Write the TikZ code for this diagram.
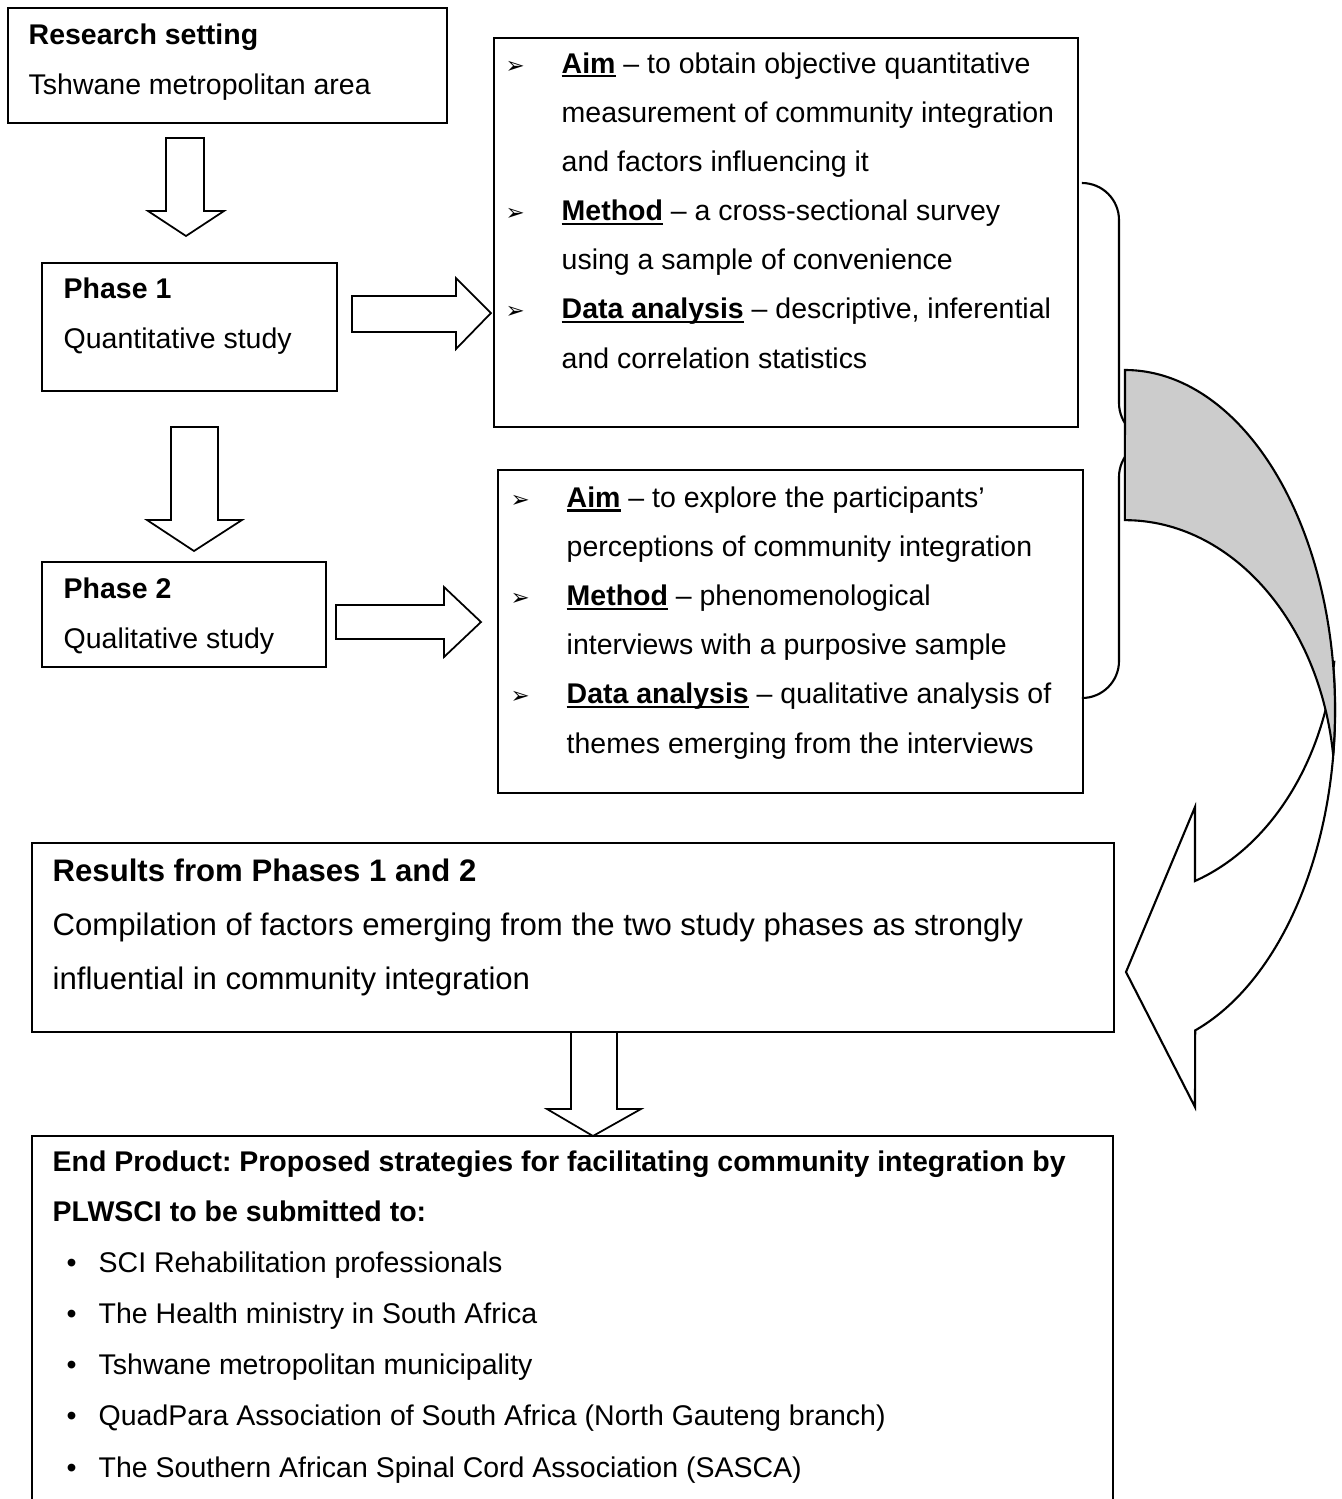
\documentclass[tikz,border=0pt]{standalone}
\usepackage{fontspec}
\setmainfont{Liberation Sans}
\newfontfamily\dejavu{DejaVu Sans}
\usetikzlibrary{fit}
\frenchspacing

\definecolor{backgrey}{RGB}{204,204,204}
\newcommand{\undbf}[1]{\setbox0\hbox{\textbf{#1}}\rlap{\rule[-1.2pt]{\wd0}{0.6pt}}\box0\relax}
\newcommand{\arrbul}{\makebox[0.56cm][l]{\dejavu\fontsize{6.5pt}{6.5pt}\selectfont ➢}}
\newcommand{\dotbul}{\makebox[0.32cm][l]{•}}

\begin{document}
\begin{tikzpicture}[x=0.01cm, y=-0.01cm,
  box/.style={draw, line width=0.6pt, inner sep=0pt},
  txt/.style={anchor=base west, align=left, inner sep=0pt, font=\fontsize{8.1pt}{13.97pt}\selectfont},
  bigtxt/.style={txt, font=\fontsize{8.85pt}{15.3pt}\selectfont},
  listtxt/.style={txt, font=\fontsize{8.1pt}{14.55pt}\selectfont},
  blockarrow/.style={draw, fill=white, line width=0.5pt},
  brace/.style={draw, line width=0.6pt, rounded corners=0.37cm}]
\clip (0,0) rectangle (1341,1499);

\node[box, fit={(8,8) (447,123)}] (setting) {};
\node[box, fit={(42,263) (337,391)}] (phaseone) {};
\node[box, fit={(42,562) (326,667)}] (phasetwo) {};
\node[box, fit={(494,38) (1078,427)}] (quant) {};
\node[box, fit={(498,470) (1083,793)}] (qual) {};
\node[box, fit={(32,843) (1114,1032)}] (results) {};
\node[box, fit={(32,1136) (1113,1530)}] (product) {};

% base anchor = baseline of the last line
\node[txt] (settingtxt) at (28,94) {\textbf{Research setting}\\Tshwane metropolitan area};
\node[txt] (phaseonetxt) at (63,348) {\textbf{Phase 1}\\Quantitative study};
\node[txt] (phasetwotxt) at (63,648) {\textbf{Phase 2}\\Qualitative study};
\node[txt] (quanttxt) at (505,368) {\arrbul\undbf{Aim} – to obtain objective quantitative\\
  \hspace*{0.56cm}measurement of community integration\\
  \hspace*{0.56cm}and factors influencing it\\
  \arrbul\undbf{Method} – a cross-sectional survey\\
  \hspace*{0.56cm}using a sample of convenience\\
  \arrbul\undbf{Data analysis} – descriptive, inferential\\
  \hspace*{0.56cm}and correlation statistics};
\node[txt] (qualtxt) at (510,753) {\arrbul\undbf{Aim} – to explore the participants’\\
  \hspace*{0.56cm}perceptions of community integration\\
  \arrbul\undbf{Method} – phenomenological\\
  \hspace*{0.56cm}interviews with a purposive sample\\
  \arrbul\undbf{Data analysis} – qualitative analysis of\\
  \hspace*{0.56cm}themes emerging from the interviews};
\node[bigtxt] (resultstitle) at (52,881) {\textbf{Results from Phases 1 and 2}};
\node[bigtxt] (resultstxt) at (52,989) {Compilation of factors emerging from the two study phases as strongly\\influential in community integration};
\node[txt] (producttitle) at (52,1221) {\textbf{End Product: Proposed strategies for facilitating community integration by}\\\textbf{PLWSCI to be submitted to:}};
\node[listtxt] (producttxt) at (66,1477) {\dotbul SCI Rehabilitation professionals\\
  \dotbul The Health ministry in South Africa\\
  \dotbul Tshwane metropolitan municipality\\
  \dotbul QuadPara Association of South Africa (North Gauteng branch)\\
  \dotbul The Southern African Spinal Cord Association (SASCA)};

\draw[blockarrow] (166,138) -- (204,138) -- (204,211) -- (224,211) -- (186,236) -- (148,211) -- (166,211) -- cycle;
\draw[blockarrow] (171,427) -- (218,427) -- (218,520) -- (242,520) -- (194,551) -- (147,520) -- (171,520) -- cycle;
\draw[blockarrow] (352,296) -- (456,296) -- (456,278) -- (491,313) -- (456,349) -- (456,332) -- (352,332) -- cycle;
\draw[blockarrow] (336,605) -- (444,605) -- (444,587) -- (481,622) -- (444,657) -- (444,639) -- (336,639) -- cycle;
\draw[blockarrow] (571,1032) -- (617,1032) -- (617,1109) -- (641,1109) -- (593,1136) -- (547,1109) -- (571,1109) -- cycle;

\draw[brace] (1082,183) -| (1119,440) -- (1156,440);
\draw[brace] (1156,440) -| (1119,698) -- (1082,698);

\filldraw[fill=white, line width=0.6pt] (1333,662) arc[start angle=-8.1, end angle=70.5, x radius=210, y radius=340]
  -- (1195,1107) -- (1126,972) -- (1195,807) -- (1195,881)
  arc[start angle=70.9, end angle=8.0, x radius=210, y radius=272] -- cycle;
\filldraw[fill=backgrey, line width=0.6pt] (1125,370) arc[start angle=-90, end angle=7.6, x radius=210, y radius=340]
  arc[start angle=-7.3, end angle=-90, x radius=210, y radius=269] -- cycle;
\end{tikzpicture}
\end{document}
